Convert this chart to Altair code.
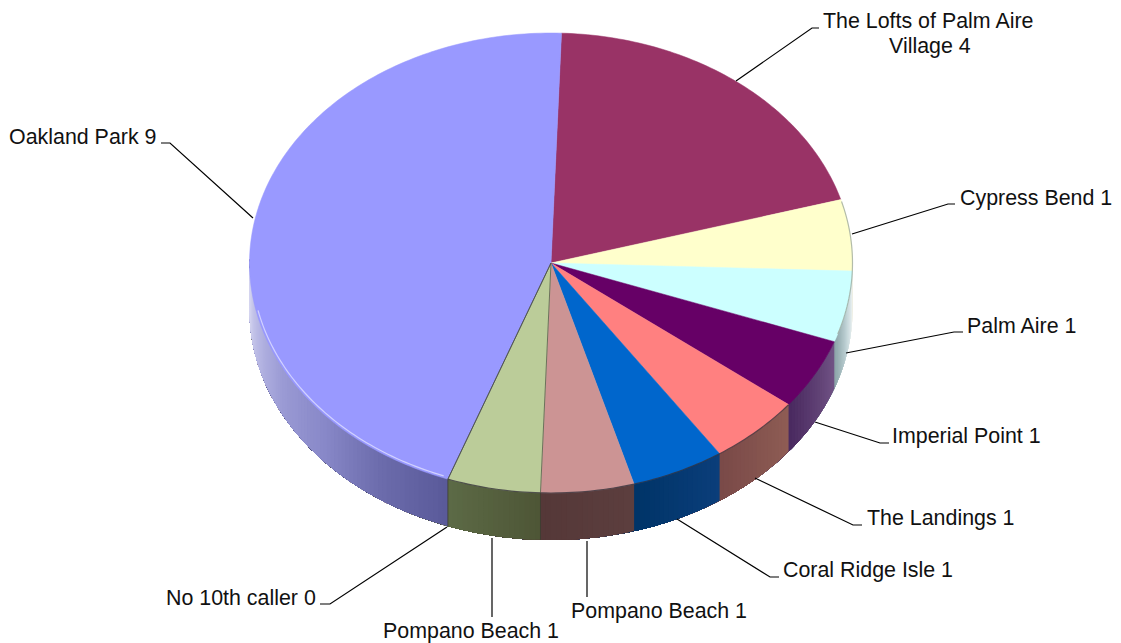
import math
import altair as alt

names = ["The Lofts of Palm Aire Village", "Cypress Bend", "Palm Aire", "Imperial Point", "The Landings",
         "Coral Ridge Isle", "Pompano Beach", "Pompano Beach", "No 10th caller", "Oakland Park"]
values = [4, 1, 1, 1, 1, 1, 1, 1, 0, 9]
top_colors = ["#993366", "#FFFFCC", "#CCFFFF", "#660066", "#FF8080",
              "#0066CC", "#CC9494", "#BBCC99", "#99CC00", "#9999FF"]
# side shading: colour stops running clockwise through each slice
side_stops = [
    ["#5c2040", "#5c2040"],
    ["#d0d0a8", "#f4f4e8"],
    ["#f2f6f6", "#c4d6d9", "#8ea6aa"],
    ["#705284", "#4a2a60"],
    ["#8e5c54", "#7a4a48"],
    ["#0b3e7a", "#003468"],
    ["#5c3e3e", "#553838"],
    ["#4e5636", "#5c6a46"],
    ["#5c6a46", "#5c6a46"],
    ["#5a5a9a", "#6c6cac", "#8888c8", "#9a9ad4", "#b8b8e4", "#e0e0f4"],
]

label_lines = ["The Lofts of Palm Aire", "Village 4", "Cypress Bend 1", "Palm Aire 1", "Imperial Point 1",
               "The Landings 1", "Coral Ridge Isle 1", "Pompano Beach 1", "Pompano Beach 1",
               "No 10th caller 0", "Oakland Park 9"]
label_x = [823, 889, 960, 967, 892, 867, 783, 571, 383, 166, 9]
label_y = [28, 53, 205, 333, 443, 525, 577, 618, 638, 605, 144]

leaders = [
    [[736, 81], [812, 28], [819, 28]],
    [[852, 234], [948, 204], [955, 204]],
    [[846, 353], [954, 332], [963, 332]],
    [[815, 422], [880, 443], [889, 443]],
    [[755, 478], [853, 525], [862, 525]],
    [[677, 519], [770, 577], [779, 577]],
    [[587, 541], [587, 597]],
    [[492, 538], [492, 617]],
    [[447, 527], [330, 604], [320, 604]],
    [[253, 218], [170, 143], [161, 143]],
]

CX, CY, RX, RY, DEPTH = 551, 263, 301.5, 230, 47
START = 2.0
TOTAL = sum(values)


def pt(a, dy=0, inset=0):
    r = math.radians(a)
    return [CX + (RX - inset) * math.sin(r), CY - (RY - inset) * math.cos(r) + dy]


def hex2rgb(h):
    return [int(h[i:i + 2], 16) for i in (1, 3, 5)]


def mix(stops, t):
    p = t * (len(stops) - 1)
    i = min(int(p), len(stops) - 2)
    f = p - i
    a, b = hex2rgb(stops[i]), hex2rgb(stops[i + 1])
    return "#%02x%02x%02x" % tuple(round(a[k] + (b[k] - a[k]) * f) for k in range(3))


def arc(a0, a1, dy=0, inset=0, step=1.0):
    n = max(1, int(abs(a1 - a0) / step))
    return [pt(a0 + (a1 - a0) * i / n, dy, inset) for i in range(n + 1)]


def feat(geom_type, coords, fill):
    return {"type": "Feature", "properties": {"fill": fill},
            "geometry": {"type": geom_type, "coordinates": coords}}


def coll(features):
    return alt.InlineData(values={"type": "FeatureCollection", "features": features},
                          format=alt.DataFormat(type="json", property="features"))


edges = [START]
for v in values:
    edges.append(edges[-1] + v * 360.0 / TOTAL)

tops, sides, dividers, vert = [], [], [], []
for i, v in enumerate(values):
    if v == 0:
        continue
    a0, a1 = edges[i], edges[i + 1]
    tops.append(feat("Polygon", [[[CX, CY]] + arc(a0, a1) + [[CX, CY]]], top_colors[i]))
    lo, hi = max(a0, 90), min(a1, 271)
    if lo < hi:
        n = max(1, int((hi - lo) / 1.0))
        for k in range(n):
            s0 = lo + (hi - lo) * k / n
            # each strip runs on to the end of the visible side, so the next one paints over it
            path = arc(s0, 271, 0, 0, 1.0)
            ring = path + [pt(a, DEPTH) for a in reversed([s0 + (271 - s0) * j / (len(path) - 1) for j in range(len(path))])]
            ring.append(ring[0])
            sides.append(feat("Polygon", [ring], mix(side_stops[i], k / max(1, n - 1))))

for a in edges[7:10]:
    dividers.append(feat("LineString", [[CX, CY], pt(a)], "#4a4f40"))
vert.append(feat("LineString", [pt(edges[7]), pt(edges[7], DEPTH)], "#3a3a30"))
vert.append(feat("LineString", [pt(edges[9]), pt(edges[9], DEPTH)], "#3a3a30"))

rims = [
    feat("LineString", arc(201, 258, 0, 2), "#e4e4ff"),
    feat("LineString", arc(74.5, 108), "#9aa69a"),
    feat("LineString", arc(128, 200), "#33303a"),
]

proj = dict(type="identity", scale=1, translate=[-8, -8])

side_layer = alt.Chart(coll(sides)).mark_geoshape(strokeWidth=0).encode(
    color=alt.Color("properties.fill:N", scale=None)).project(**proj)
top_layer = alt.Chart(coll(tops)).mark_geoshape(strokeWidth=0.5).encode(
    color=alt.Color("properties.fill:N", scale=None),
    stroke=alt.Stroke("properties.fill:N", scale=None)).project(**proj)
rim_layer = alt.Chart(coll(rims)).mark_geoshape(filled=False, strokeWidth=1.2, strokeOpacity=0.75).encode(
    stroke=alt.Stroke("properties.fill:N", scale=None)).project(**proj)
div_layer = alt.Chart(coll(dividers + vert)).mark_geoshape(filled=False, strokeWidth=0.9, strokeOpacity=0.8).encode(
    stroke=alt.Stroke("properties.fill:N", scale=None)).project(**proj)
leader_layer = alt.Chart(coll([feat("LineString", c, "#000000") for c in leaders])).mark_geoshape(
    filled=False, stroke="#000000", strokeWidth=1.2).project(**proj)

labels = [{"t": t, "lon": x, "lat": y} for t, x, y in zip(label_lines, label_x, label_y)]
text_layer = alt.Chart(alt.InlineData(values=labels)).mark_text(
    align="left", baseline="alphabetic", font="Liberation Sans", fontSize=21.4, color="#111111").encode(
    longitude="lon:Q", latitude="lat:Q", text="t:N").project(**proj)

chart = alt.layer(side_layer, top_layer, rim_layer, div_layer, leader_layer, text_layer).properties(
    width=1105, height=635, padding=0, autosize=alt.AutoSizeParams(type="none"), background="white"
).configure_view(stroke=None)

chart.save("out.html", embed_options={"renderer": "svg", "actions": False})
